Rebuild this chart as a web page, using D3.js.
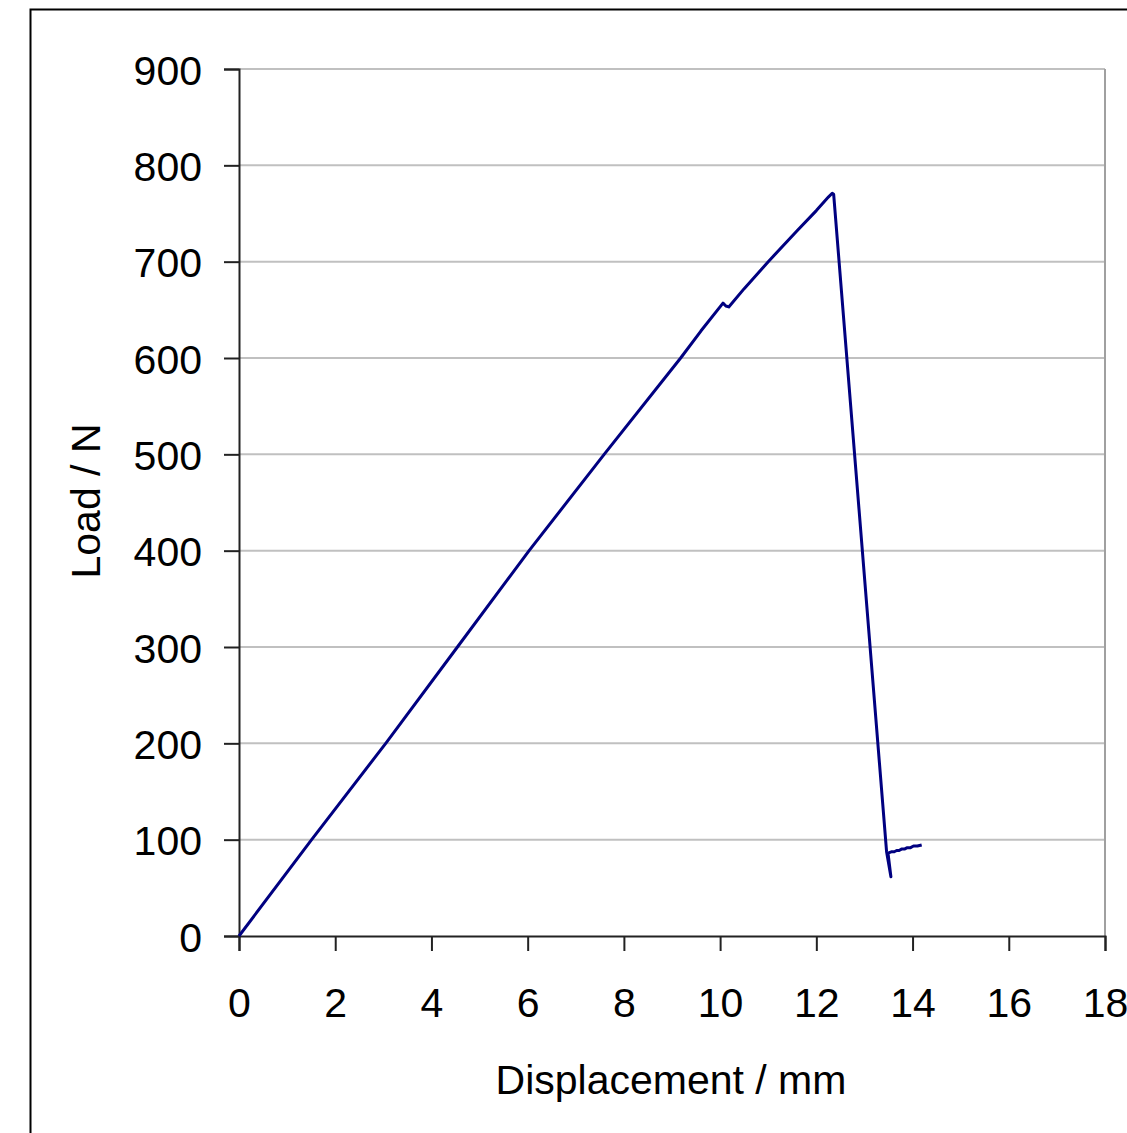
<!DOCTYPE html>
<html>
<head>
<meta charset="utf-8">
<script src="https://cdn.jsdelivr.net/npm/d3@7"></script>
<style>
    body { margin: 0; background: #fff; }
    text { font-family: "Liberation Sans", Arial, sans-serif; }
</style>
</head>
<body>
<script>
// displacement (mm) and load (N)
let displacement = [0, 1.51, 3.05, 4.54, 6.03, 7.59, 9.18, 9.6, 10.06, 10.12, 10.18, 10.5, 11.0, 11.6, 12.0, 12.25, 12.33, 12.36,
    13.46, 13.55, 13.49, 13.57, 13.62, 13.67, 13.72, 13.77, 13.83, 13.88, 13.95, 14.02, 14.1, 14.19];
let load = [0, 100, 200, 300, 400, 500, 600, 628, 657, 654, 653, 672, 700, 732, 753, 767, 771, 770,
    87.5, 61.6, 86, 87.5, 87.5, 88.8, 88.8, 90.2, 90.2, 91.5, 91.5, 93.4, 93.4, 94.5];
let xTicks = [0, 2, 4, 6, 8, 10, 12, 14, 16, 18];
let yTicks = [0, 100, 200, 300, 400, 500, 600, 700, 800, 900];

let width = 1127, height = 1133;
let plotLeft = 239, plotRight = 1105, plotTop = 69, plotBottom = 936;

let svg = d3.select("body").append("svg")
    .attr("width", width)
    .attr("height", height);

svg.append("rect")
    .attr("width", width)
    .attr("height", height)
    .attr("fill", "#fff");

// outer chart border (runs off the right and bottom edges)
svg.append("rect")
    .attr("x", 30.5)
    .attr("y", 9.5)
    .attr("width", 1200)
    .attr("height", 1200)
    .attr("fill", "none")
    .attr("stroke", "#000")
    .attr("stroke-width", 2);

let x = d3.scaleLinear().domain([0, 18]).range([plotLeft, plotRight]);
let y = d3.scaleLinear().domain([0, 900]).range([plotBottom, plotTop]);

// gridlines
svg.selectAll(".grid")
    .data(yTicks.slice(1))
    .enter()
    .append("line")
    .attr("class", "grid")
    .attr("x1", plotLeft)
    .attr("x2", plotRight)
    .attr("y1", function (d) { return y(d); })
    .attr("y2", function (d) { return y(d); })
    .attr("stroke", "#c0c0c0")
    .attr("stroke-width", 2);

svg.append("line")
    .attr("x1", plotRight)
    .attr("x2", plotRight)
    .attr("y1", plotTop)
    .attr("y2", plotBottom)
    .attr("stroke", "#a0a0a0")
    .attr("stroke-width", 2);

let yAxis = svg.append("g")
    .attr("transform", "translate(" + plotLeft + ",0)")
    .call(d3.axisLeft(y).tickValues(yTicks).tickSize(15).tickPadding(22).tickFormat(d3.format("d")));

let xAxis = svg.append("g")
    .attr("transform", "translate(0," + plotBottom + ")")
    .call(d3.axisBottom(x).tickValues(xTicks).tickSize(15).tickPadding(37).tickFormat(d3.format("d")));

[xAxis, yAxis].forEach(function (g) {
    g.select(".domain").attr("stroke", "#222").attr("stroke-width", 2);
    g.selectAll(".tick line").attr("stroke", "#222").attr("stroke-width", 2);
    g.selectAll(".tick text")
        .attr("fill", "#000")
        .style("font-family", "'Liberation Sans', Arial, sans-serif")
        .style("font-size", "41px");
});
yAxis.selectAll(".tick text").attr("dy", "0.37em");

let line = d3.line()
    .x(function (d) { return x(d[0]); })
    .y(function (d) { return y(d[1]); });

svg.append("path")
    .datum(displacement.map(function (d, i) { return [d, load[i]]; }))
    .attr("d", line)
    .attr("fill", "none")
    .attr("stroke", "#000080")
    .attr("stroke-width", 3)
    .attr("stroke-linejoin", "round");

svg.append("text")
    .attr("x", (plotLeft + plotRight) / 2 - 1)
    .attr("y", 1094)
    .attr("text-anchor", "middle")
    .style("font-size", "41px")
    .text("Displacement / mm");

svg.append("text")
    .attr("transform", "translate(100," + 501 + ") rotate(-90)")
    .attr("text-anchor", "middle")
    .style("font-size", "41px")
    .text("Load / N");
</script>
</body>
</html>
